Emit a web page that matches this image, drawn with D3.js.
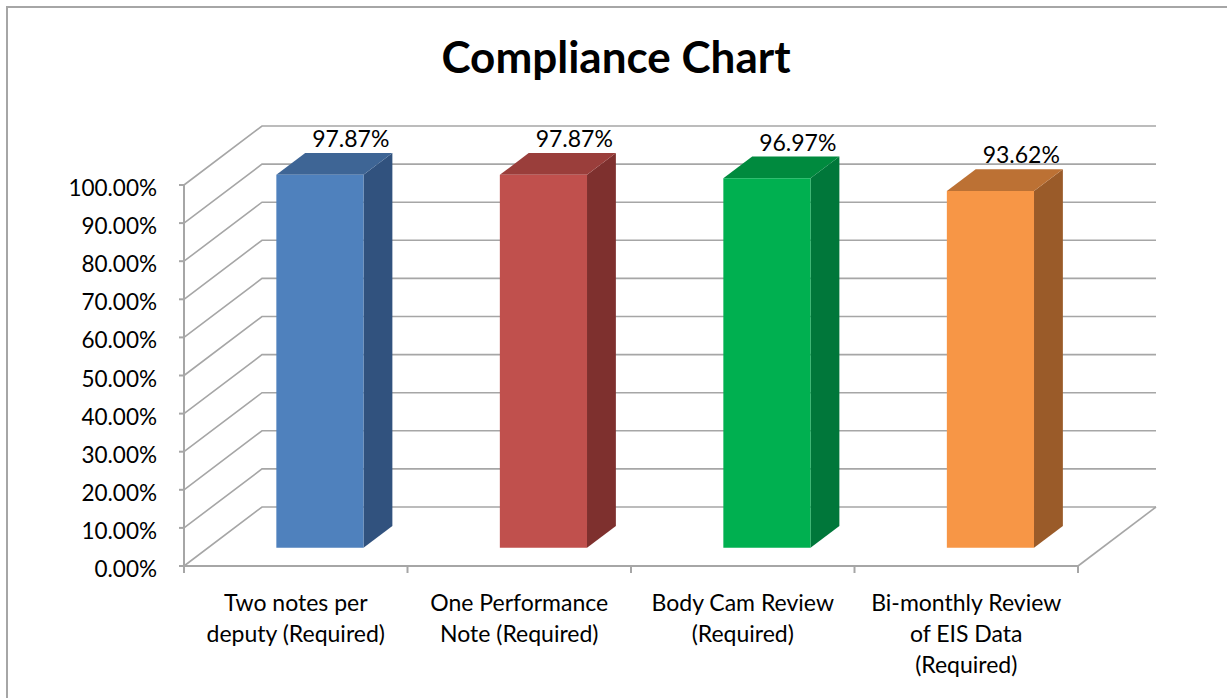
<!DOCTYPE html>
<html>
<head>
<meta charset="utf-8">
<script src="https://cdn.jsdelivr.net/npm/d3@7"></script>
<style>
  body { margin: 0; background: #fff; }
  svg { display: block; font-family: Lato, "Open Sans", sans-serif; }
</style>
</head>
<body>
<div id="chart"></div>
<script>
// chart data
const categories = [
    "Two notes per deputy (Required)",
    "One Performance Note (Required)",
    "Body Cam Review (Required)",
    "Bi-monthly Review of EIS Data (Required)"
];
const categoryLines = [
    ["Two notes per", "deputy (Required)"],
    ["One Performance", "Note (Required)"],
    ["Body Cam Review", "(Required)"],
    ["Bi-monthly Review", "of EIS Data", "(Required)"]
];
const values = [97.87, 97.87, 96.97, 93.62];
const yTicks = [0, 10, 20, 30, 40, 50, 60, 70, 80, 90, 100];

// face colours: front, top, side
const frontColors = ["#4F81BD", "#C0504D", "#00B050", "#F79646"];
const topColors = ["#3E6595", "#9A3E3B", "#008A3E", "#BC7134"];
const sideColors = ["#31527E", "#7E302E", "#00773A", "#9A5B29"];

const width = 1227, height = 698;

// 3d offset of the back wall
const depthX = 78, depthY = 59;
const barFront = 0.31, barBack = 0.68;

const svg = d3.select("#chart").append("svg")
    .attr("width", width)
    .attr("height", height);

// outer chart border (cut off right / bottom like the screenshot)
svg.append("path")
    .attr("d", `M7,${height + 5} L7,7 L${width + 5},7`)
    .attr("fill", "none")
    .attr("stroke", "#a6a6a6")
    .attr("stroke-width", 2);

// title
svg.append("text")
    .attr("x", 616)
    .attr("y", 73)
    .attr("text-anchor", "middle")
    .style("font-size", "44px")
    .style("font-weight", "bold")
    .text("Compliance Chart");

const x = d3.scaleBand().domain(categories).range([184, 1078]);
const y = d3.scaleLinear().domain([0, 100]).range([566, 185]);

// project a point on the front plane back into depth d (0..1)
const P = (px, v, d) => [px + d * depthX, y(v) - d * depthY];

const grid = svg.append("g")
    .attr("stroke", "#a6a6a6")
    .attr("stroke-width", 1.6)
    .attr("fill", "none");

// side wall diagonals and back wall lines
yTicks.forEach(t => {
    let a = P(184, t, 0), b = P(184, t, 1), c = P(1078, t, 1);
    grid.append("path").attr("d", `M${a}L${b}L${c}`);
});

// floor: right edge
grid.append("path").attr("d", `M${P(1078, 0, 0)}L${P(1078, 0, 1)}`);

// bars
const bw = x.bandwidth();
const barW = bw * 0.39;

const bars = svg.append("g").selectAll("g")
    .data(categories)
    .join("g");

bars.each(function (c, i) {
    let g = d3.select(this);
    let xl = x(c) + (bw - barW) / 2;
    let xr = xl + barW;
    let v = values[i];
    let poly = pts => pts.map(p => p.join(",")).join(" ");

    g.append("polygon")
        .attr("points", poly([P(xr, 0, barFront), P(xr, 0, barBack), P(xr, v, barBack), P(xr, v, barFront)]))
        .attr("fill", sideColors[i]);
    g.append("polygon")
        .attr("points", poly([P(xl, v, barFront), P(xr, v, barFront), P(xr, v, barBack), P(xl, v, barBack)]))
        .attr("fill", topColors[i]);
    g.append("polygon")
        .attr("points", poly([P(xl, 0, barFront), P(xr, 0, barFront), P(xr, v, barFront), P(xl, v, barFront)]))
        .attr("fill", frontColors[i]);

    // data label
    g.append("text")
        .attr("x", x(c) + bw / 2 + 55)
        .attr("y", y(v) - 46)
        .attr("text-anchor", "middle")
        .style("font-size", "23px")
        .attr("fill", "#000")
        .text(d3.format(".2f")(v) + "%");
});

// front axes
const axes = svg.append("g")
    .attr("stroke", "#a6a6a6")
    .attr("stroke-width", 2)
    .attr("fill", "none");

axes.append("path").attr("d", `M184,${y(100)}L184,${y(0)}L1078,${y(0)}`);

yTicks.forEach(t => {
    axes.append("path").attr("d", `M179,${y(t)}L184,${y(t)}`);
});

const bounds = categories.map(c => x(c)).concat([x.range()[1]]);
bounds.forEach(b => {
    axes.append("path").attr("d", `M${b},${y(0)}L${b},${y(0) + 7}`);
});

// y tick labels
svg.append("g").selectAll("text")
    .data(yTicks)
    .join("text")
    .attr("x", 157)
    .attr("y", d => y(d) + 11)
    .attr("text-anchor", "end")
    .style("font-size", "22.5px")
    .text(d => d3.format(".2f")(d) + "%");

// category labels
categories.forEach((c, i) => {
    let t = svg.append("text")
        .attr("text-anchor", "middle")
        .style("font-size", "23px");
    categoryLines[i].forEach((line, j) => {
        t.append("tspan")
            .attr("x", x(c) + bw / 2)
            .attr("y", 611 + j * 31)
            .text(line);
    });
});
</script>
</body>
</html>
